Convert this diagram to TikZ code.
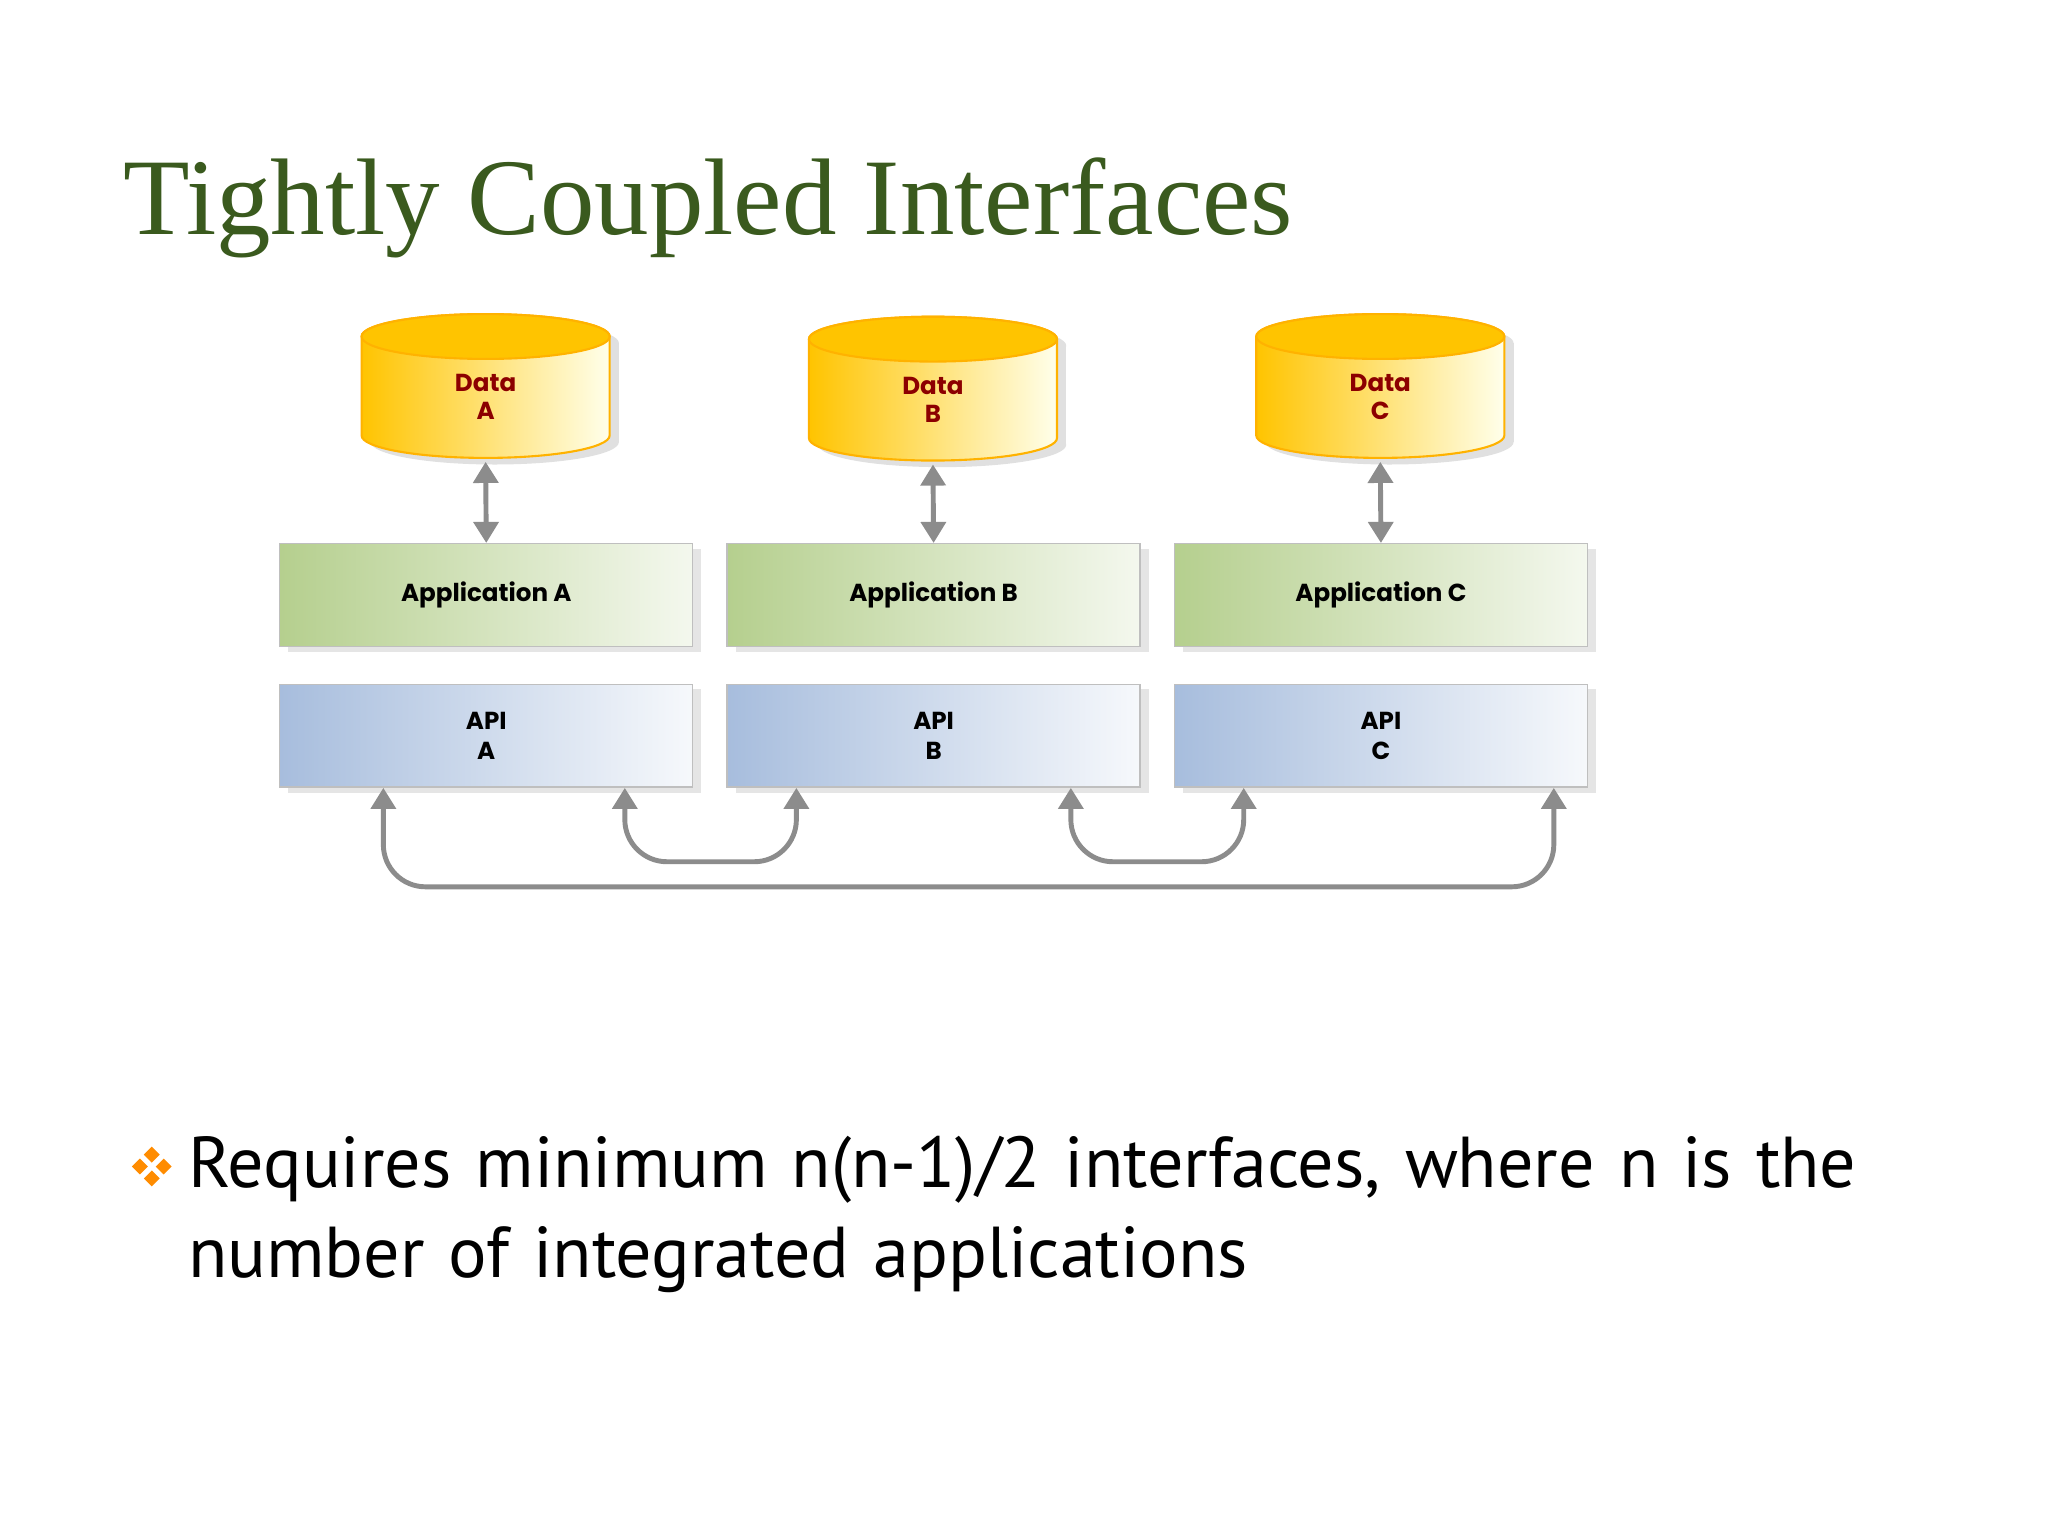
\documentclass[tikz,border=0pt]{standalone}
\usepackage{fontspec}
\setmainfont{Liberation Serif}
\newfontfamily\bodyf{PT Sans}
\newfontfamily\boxf{Poppins}
\usetikzlibrary{arrows.meta}
\definecolor{titlegreen}{HTML}{3A5A1E}
\definecolor{appg}{HTML}{B5CF8E}
\definecolor{apib}{HTML}{A7BDDD}
\definecolor{cylY}{HTML}{FFC400}
\definecolor{arrg}{HTML}{8C8C8C}
\begin{document}
\begin{tikzpicture}[x=0.013196cm,y=-0.013196cm,
  box/.style={draw=black!25,line width=0.4pt,minimum width=313*0.013196cm,minimum height=78*0.013196cm,inner sep=0pt,font=\boxf\fontsize{7}{8.5}\selectfont\bfseries,align=center},
  app/.style={box,left color=appg,right color=appg!15},
  api/.style={box,left color=apib,right color=apib!10},
  conn/.style={draw=arrg,line width=1.4pt,rounded corners=12},
  dbl/.style={draw=arrg,line width=1.4pt,{Triangle[width=7pt,length=6pt]}-{Triangle[width=7pt,length=6pt]}}]
\useasboundingbox (0,0) rectangle (1552,1164);
\fill[white] (0,0) rectangle (1552,1164);
\node[anchor=base west,text=titlegreen,font=\fontsize{31}{36}\selectfont,inner sep=0] (title) at (93,178) {Tightly Coupled Interfaces};
\foreach \n/\cx/\ty/\lab in {A/368/255/A,B/707/257/B,C/1046/255/C}{
  \fill[black!12] (\cx+7,\ty+5) ellipse (94 and 17);
  \fill[black!12] (\cx-87,\ty+5) rectangle (\cx+101,\ty+80);
  \fill[black!12] (\cx+7,\ty+80) ellipse (94 and 17);
  \path[left color=cylY,right color=yellow!8,draw=orange!60!yellow,line width=0.6pt]
    (\cx-94,\ty) -- (\cx-94,\ty+75) arc[start angle=180,end angle=360,x radius=94,y radius=-17] -- (\cx+94,\ty) arc[start angle=0,end angle=180,x radius=94,y radius=-17] -- cycle;
  \draw[orange!60!yellow,line width=0.6pt,fill=cylY] (\cx,\ty) ellipse (94 and 17);
  \node[font=\boxf\fontsize{7}{8}\selectfont\bfseries,text=red!55!black,align=center] (db\n) at (\cx,\ty+46) {Data\\\lab};
  \coordinate (dbb\n) at (\cx,\ty+95);
}
\foreach \n/\x in {A/368.5,B/707.5,C/1046.5}{
  \fill[black!10] (\x-150,416) rectangle (\x+163,494);
  \node[app] (app\n) at (\x,451) {Application \n};
  \fill[black!10] (\x-150,522) rectangle (\x+163,601);
  \node[api] (api\n) at (\x,557.5) {API\\\n};
}
\draw[dbl] (dbbA) -- (appA.north);
\draw[dbl] (dbbB) -- (appB.north);
\draw[dbl] (dbbC) -- (appC.north);
\draw[conn,{Triangle[width=7pt,length=6pt]}-{Triangle[width=7pt,length=6pt]}] ([xshift=105*0.013196cm]apiA.south) -- ++(0,56) -| ([xshift=-104*0.013196cm]apiB.south);
\draw[conn,{Triangle[width=7pt,length=6pt]}-{Triangle[width=7pt,length=6pt]}] ([xshift=104*0.013196cm]apiB.south) -- ++(0,56) -| ([xshift=-104*0.013196cm]apiC.south);
\draw[conn,{Triangle[width=7pt,length=6pt]}-{Triangle[width=7pt,length=6pt]}] ([xshift=-78*0.013196cm]apiA.south) -- ++(0,75) -| ([xshift=131*0.013196cm]apiC.south);
\foreach \dx/\dy in {0/-9,-9/0,9/0,0/9}{
  \fill[orange!90!yellow] (115+\dx,884+\dy) -- ++(-6,0) -- ++(6,-6) -- ++(6,6) -- ++(-6,6) -- ++(-6,-6) -- cycle;
}
\node[anchor=base west,inner sep=0,font=\bodyf\fontsize{20.5}{25.5}\selectfont,align=left,text width=1420*0.013196cm] (txt) at (142,900) {Requires minimum n(n-1)/2 interfaces, where n is the\\number of integrated applications};
\end{tikzpicture}
\end{document}
